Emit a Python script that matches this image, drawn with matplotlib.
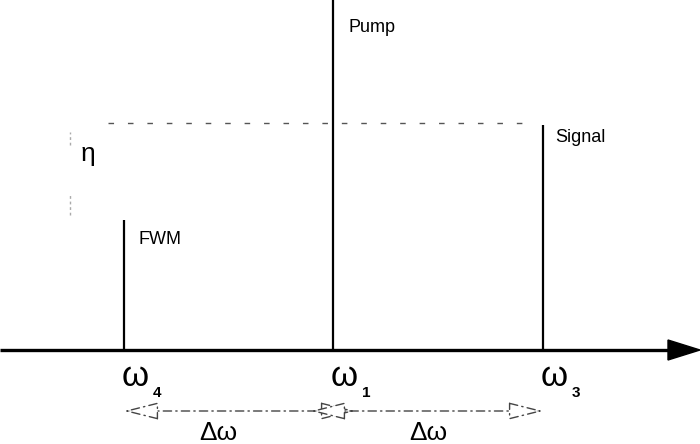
import matplotlib.pyplot as plt

plt.rcParams['font.family'] = ['Liberation Sans', 'DejaVu Sans']

# spectral lines: FWM, pump, signal
line_names = ['FWM', 'Pump', 'Signal']
line_pos = [124, 333, 543]
line_height = [130, 350, 225]
freq_subs = ['4', '1', '3']
level_eta = 227          # dashed reference level (signal height)

fig = plt.figure(figsize=(7, 4.44), dpi=100)
ax = fig.add_axes([0, 0, 1, 1])
ax.set_xlim(0, 700)
ax.set_ylim(-94, 350)
ax.axis('off')

# frequency axis with filled arrow head
ax.plot([0, 672], [0, 0], color='black', lw=2.4, solid_capstyle='butt')
ax.fill([668, 700, 668], [-10, 0, 10], color='black')

# spectral lines
ax.vlines(line_pos, 0, line_height, color='black', lw=1.6)

# line names
ax.text(line_pos[0] + 14, line_height[0] - 20, line_names[0], fontsize=13, va='center')
ax.text(line_pos[1] + 15, line_height[1] - 27, line_names[1], fontsize=13, va='center')
ax.text(line_pos[2] + 12, line_height[2] - 12, line_names[2], fontsize=13, va='center')

# dashed level line and eta
ax.plot([108, 532], [level_eta, level_eta], color='#555555', lw=1,
        linestyle=(0, (4, 10)))
ax.text(88, 196, 'η', fontsize=19, ha='center', va='center')
ax.plot([70, 70], [205, 218], color='#aaaaaa', lw=1, linestyle=(0, (2, 2)))
ax.plot([70, 70], [135, 155], color='#aaaaaa', lw=1, linestyle=(0, (2, 2)))

# frequency labels
for x, sub in zip(line_pos, freq_subs):
    ax.text(x - 2, -26, 'ω', fontsize=25, ha='left', va='center')
    ax.text(x + 29, -43, sub, fontsize=11, fontweight='bold', ha='left', va='center')

# delta omega arrows
arr = dict(arrowstyle='<|-|>,head_length=2.2,head_width=0.55', color='#444444',
           lw=1, linestyle=(0, (6, 3, 1, 3)), fc='white', shrinkA=0, shrinkB=0,
           mutation_scale=10)
ax.annotate('', xy=(line_pos[0], -61), xytext=(line_pos[1] + 22, -61), arrowprops=arr)
ax.annotate('', xy=(line_pos[2], -61), xytext=(line_pos[1] - 22, -61), arrowprops=arr)
ax.text(218, -83, 'Δω', fontsize=19, ha='center', va='center')
ax.text(428, -83, 'Δω', fontsize=19, ha='center', va='center')

fig.savefig('out.png', dpi=100)
